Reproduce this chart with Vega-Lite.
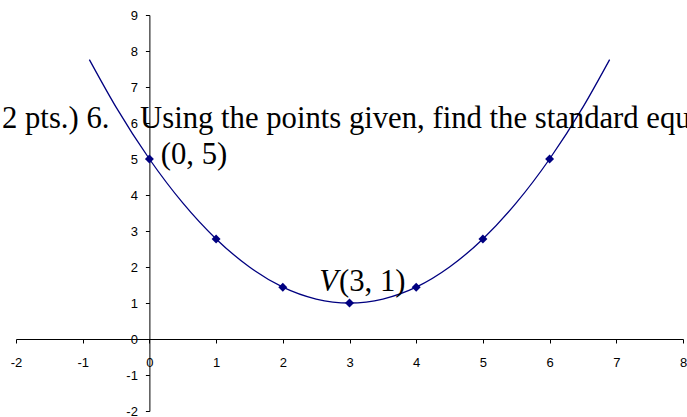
{
  "$schema": "https://vega.github.io/schema/vega-lite/v6.json",
  "width": 667,
  "height": 396,
  "autosize": {"type": "none"},
  "padding": {"left": 16, "top": 15, "right": 4, "bottom": 6},
  "background": "white",
  "config": {
    "view": {"stroke": null},
    "axis": {
      "grid": false,
      "title": null,
      "tickSize": 4,
      "labelFont": "Liberation Sans",
      "labelFontSize": 13,
      "labelColor": "#000",
      "domainColor": "#000",
      "tickColor": "#000",
      "domainWidth": 1,
      "tickWidth": 1,
      "labelFlush": false,
      "labelOverlap": false,
      "labelBound": false,
      "labelExpr": "'' + datum.value"
    }
  },
  "datasets": {
    "curve": [
      {"x": -0.9, "y": 7.76}, {"x": -0.5, "y": 6.44}, {"x": 0, "y": 5},
      {"x": 0.5, "y": 3.78}, {"x": 1, "y": 2.78}, {"x": 1.5, "y": 2},
      {"x": 2, "y": 1.44}, {"x": 2.5, "y": 1.11}, {"x": 3, "y": 1},
      {"x": 3.5, "y": 1.11}, {"x": 4, "y": 1.44}, {"x": 4.5, "y": 2},
      {"x": 5, "y": 2.78}, {"x": 5.5, "y": 3.78}, {"x": 6, "y": 5},
      {"x": 6.5, "y": 6.44}, {"x": 6.9, "y": 7.76}
    ],
    "points": [
      {"x": 0, "y": 5}, {"x": 1, "y": 2.78}, {"x": 2, "y": 1.44},
      {"x": 3, "y": 1}, {"x": 4, "y": 1.44}, {"x": 5, "y": 2.78}, {"x": 6, "y": 5}
    ],
    "labels": [
      {"x": -2.21, "y": 5.853, "text": "2 pts.) 6."},
      {"x": -0.14, "y": 5.853, "text": "Using the points given, find the standard equ"},
      {"x": 0.17, "y": 4.861, "text": "(0, 5)"},
      {"x": 2.843, "y": 1.34, "text": "(3, 1)"}
    ],
    "italic": [
      {"x": 2.545, "y": 1.34, "text": "V"}
    ]
  },
  "encoding": {
    "x": {
      "field": "x",
      "type": "quantitative",
      "scale": {"domain": [-2, 8], "nice": false, "zero": false},
      "axis": {
        "values": [-2, -1, 0, 1, 2, 3, 4, 5, 6, 7, 8],
        "offset": -72,
        "labelPadding": 13
      }
    },
    "y": {
      "field": "y",
      "type": "quantitative",
      "scale": {"domain": [-2, 9], "nice": false, "zero": false},
      "axis": {
        "values": [-2, -1, 0, 1, 2, 3, 4, 5, 6, 7, 8, 9],
        "offset": -133.4,
        "labelPadding": 8
      }
    }
  },
  "layer": [
    {
      "data": {"name": "curve"},
      "mark": {"type": "line", "color": "#000080", "strokeWidth": 1.3, "interpolate": "monotone", "clip": false},
      "encoding": {}
    },
    {
      "data": {"name": "points"},
      "mark": {"type": "point", "shape": "diamond", "filled": true, "size": 80, "color": "#000080", "opacity": 1},
      "encoding": {}
    },
    {
      "data": {"name": "labels"},
      "mark": {"type": "text", "align": "left", "baseline": "alphabetic", "font": "Liberation Serif", "fontSize": 30.7, "color": "#000"},
      "encoding": {"text": {"field": "text", "type": "nominal"}}
    },
    {
      "data": {"name": "italic"},
      "mark": {"type": "text", "align": "left", "baseline": "alphabetic", "font": "Liberation Serif", "fontSize": 30.7, "fontStyle": "italic", "color": "#000"},
      "encoding": {"text": {"field": "text", "type": "nominal"}}
    }
  ]
}
